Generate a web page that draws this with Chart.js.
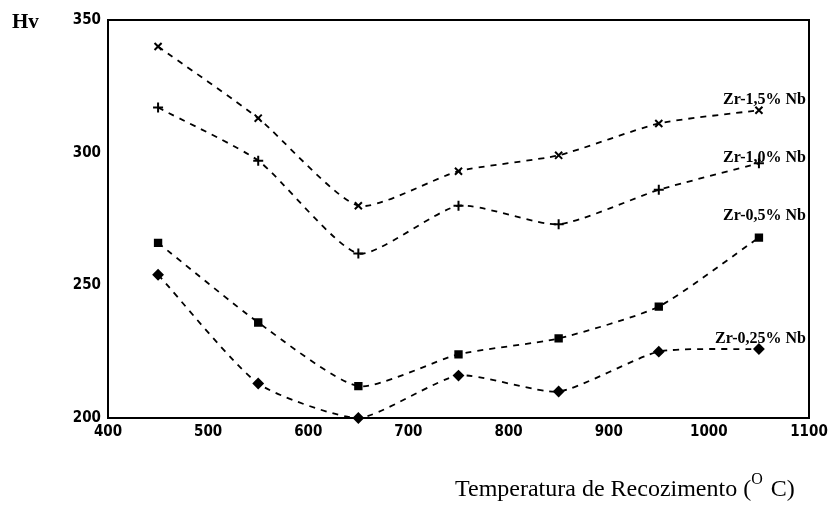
<!DOCTYPE html>
<html lang="pt">
<head>
  <meta charset="UTF-8">
  <title>Dureza x Temperatura de Recozimento</title>
  <script src="https://cdn.jsdelivr.net/npm/chart.js"></script>
  <style>
    body {
      margin: 0;
      background: #fff;
    }
    #box {
      width: 834px;
      height: 508px;
    }
  </style>
</head>
<body>
  <div id="box">
    <canvas id="hvChart" width="834" height="508"></canvas>
  </div>

  <script>
    // temperaturas de recozimento (oC)
    const temps = [450, 550, 650, 750, 850, 950, 1050];

    // dureza Vickers de cada liga
    const zr15 = [340, 313, 280, 293, 299, 311, 316];
    const zr10 = [317, 297, 262, 280, 273, 286, 296];
    const zr05 = [266, 236, 212, 224, 230, 242, 268];
    const zr025 = [254, 213, 200, 216, 210, 225, 226];

    const seriesNames = ['Zr-1,5% Nb', 'Zr-1,0% Nb', 'Zr-0,5% Nb', 'Zr-0,25% Nb'];
    const xTicks = [400, 500, 600, 700, 800, 900, 1000, 1100];
    const yTicks = [200, 250, 300, 350];

    const tickFont = { family: "'DejaVu Sans Condensed', 'Liberation Sans Narrow', sans-serif", size: 15, weight: 'bold' };

    function serie(values, style, r) {
      return {
        data: temps.map((t, i) => ({ x: t, y: values[i] })),
        borderColor: '#000',
        backgroundColor: '#000',
        borderWidth: 1.8,
        borderDash: [6, 6],
        tension: 0.2,
        pointStyle: style,
        pointRadius: r,
        pointBorderWidth: 2,
        clip: false
      };
    }

    // rotulos, caixa do grafico e titulos
    const decoracao = {
      id: 'decoracao',
      afterDatasetsDraw(chart) {
        const c = chart.ctx;
        const a = chart.chartArea;
        const y = chart.scales.y;
        c.save();
        c.strokeStyle = '#000';
        c.lineWidth = 2;
        c.strokeRect(a.left, a.top, a.right - a.left, a.bottom - a.top);

        c.fillStyle = '#000';
        c.font = "bold 16px 'Liberation Serif', serif";
        c.textAlign = 'right';
        c.textBaseline = 'middle';
        const anchors = [320, 298, 276, 230];
        seriesNames.forEach((n, i) => {
          c.fillText(n, a.right - 3, y.getPixelForValue(anchors[i]));
        });

        c.textAlign = 'left';
        c.font = "bold 21px 'Liberation Serif', serif";
        c.fillText('Hv', 12, 23);

        c.font = "24px 'Liberation Serif', serif";
        const txt = 'Temperatura de Recozimento (';
        let x = 455;
        c.fillText(txt, x, 490);
        x += c.measureText(txt).width;
        c.font = "16px 'Liberation Serif', serif";
        c.fillText('O', x, 480);
        x += c.measureText('O').width + 8;
        c.font = "24px 'Liberation Serif', serif";
        c.fillText('C)', x, 490);
        c.restore();
      }
    };

    new Chart(document.getElementById('hvChart'), {
      type: 'line',
      data: {
        datasets: [
          serie(zr15, 'crossRot', 5),
          serie(zr10, 'cross', 5),
          serie(zr05, 'rect', 4.5),
          serie(zr025, 'rectRot', 4.5)
        ]
      },
      options: {
        responsive: false,
        animation: false,
        layout: { padding: { top: 20, right: 25, left: 0, bottom: 0 } },
        plugins: {
          legend: { display: false },
          tooltip: { enabled: false }
        },
        scales: {
          x: {
            type: 'linear',
            min: 400,
            max: 1100,
            afterBuildTicks: s => { s.ticks = xTicks.map(v => ({ value: v })); },
            afterFit: s => { s.height = 90; },
            grid: { display: false, drawTicks: false },
            border: { display: false },
            ticks: { color: '#000', font: tickFont, padding: 5, maxRotation: 0, callback: v => String(v) }
          },
          y: {
            min: 200,
            max: 350,
            afterBuildTicks: s => { s.ticks = yTicks.map(v => ({ value: v })); },
            afterFit: s => { s.width = 108; },
            grid: { display: false, drawTicks: false },
            border: { display: false },
            ticks: { color: '#000', font: tickFont, padding: 7, callback: v => String(v) }
          }
        }
      },
      plugins: [decoracao]
    });
  </script>
</body>
</html>
